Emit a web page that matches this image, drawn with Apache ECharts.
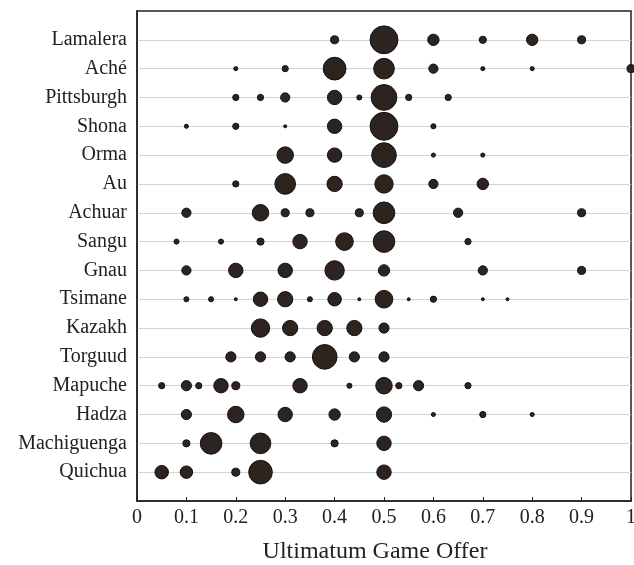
<!DOCTYPE html>
<html>
<head>
<meta charset="utf-8">
<script src="https://cdn.jsdelivr.net/npm/echarts@6/dist/echarts.min.js"></script>
<style>
html,body{margin:0;padding:0;background:#fff;}
#chart{width:634px;height:565px;}
</style>
</head>
<body>
<div id="chart"></div>
<script>
// Societies, listed top to bottom
const societies = ['Lamalera','Aché','Pittsburgh','Shona','Orma','Au','Achuar','Sangu','Gnau','Tsimane','Kazakh','Torguud','Mapuche','Hadza','Machiguenga','Quichua'];

// Each entry: [offer, approximate share of offers (%)]
const lamalera    = [[0.4,5],[0.5,60],[0.6,10],[0.7,4],[0.8,10],[0.9,5]];
const ache        = [[0.2,1.3],[0.3,3],[0.4,40],[0.5,33],[0.6,6.6],[0.7,1.3],[0.8,1.3],[1.0,5]];
const pittsburgh  = [[0.2,3],[0.25,3],[0.3,6.6],[0.4,16],[0.45,2],[0.5,51],[0.55,3],[0.63,3]];
const shona       = [[0.1,1.3],[0.2,3],[0.3,0.7],[0.4,16],[0.5,60],[0.6,2]];
const orma        = [[0.3,21],[0.4,16],[0.5,47],[0.6,1.3],[0.7,1.3]];
const au          = [[0.2,3],[0.3,33],[0.4,18],[0.5,26],[0.6,6.6],[0.7,10]];
const achuar      = [[0.1,6.6],[0.25,21],[0.3,5],[0.35,5],[0.45,5],[0.5,36],[0.65,6.6],[0.9,5]];
const sangu       = [[0.08,2],[0.17,2],[0.25,4],[0.33,16],[0.42,24],[0.5,36],[0.67,3]];
const gnau        = [[0.1,6.6],[0.2,16],[0.3,16],[0.4,29],[0.5,10],[0.7,6.6],[0.9,5]];
const tsimane     = [[0.1,2],[0.15,2],[0.2,0.7],[0.25,16],[0.3,18],[0.35,2],[0.4,14],[0.45,0.7],[0.5,24],[0.55,0.7],[0.6,3],[0.7,0.7],[0.75,0.7]];
const kazakh      = [[0.25,26],[0.31,18],[0.38,18],[0.44,18],[0.5,8]];
const torguud     = [[0.19,8],[0.25,8],[0.31,8],[0.38,47],[0.44,8],[0.5,8]];
const mapuche     = [[0.05,3],[0.1,8],[0.125,3],[0.17,16],[0.2,5],[0.33,16],[0.43,2],[0.5,21],[0.53,3],[0.57,8],[0.67,3]];
const hadza       = [[0.1,8],[0.2,21],[0.3,16],[0.4,10],[0.5,18],[0.6,1.3],[0.7,3],[0.8,1.3]];
const machiguenga = [[0.1,4],[0.15,36],[0.25,33],[0.4,4],[0.5,16]];
const quichua     = [[0.05,14],[0.1,12],[0.2,5],[0.25,43],[0.5,16]];

const rows = [lamalera, ache, pittsburgh, shona, orma, au, achuar, sangu, gnau, tsimane, kazakh, torguud, mapuche, hadza, machiguenga, quichua];

const xTicks = [0,0.1,0.2,0.3,0.4,0.5,0.6,0.7,0.8,0.9,1];

const points = [];
rows.forEach((row, i) => row.forEach(p => points.push([p[0], i, p[1]])));

const serif = 'Liberation Serif';
const splitColors = [];
for (let k = 0; k <= societies.length + 1; k++) {
  splitColors.push(k === 0 || k === societies.length + 1 ? 'rgba(0,0,0,0)' : '#d4d4d4');
}

const chart = echarts.init(document.getElementById('chart'));
chart.setOption({
  backgroundColor: '#fff',
  animation: false,
  grid: {left: 137, right: 3, top: 11, bottom: 64, show: true, borderColor: '#222', borderWidth: 1.5,
         containLabel: false, outerBoundsMode: 'none'},
  xAxis: {
    type: 'value', min: 0, max: 1, interval: 0.1,
    name: 'Ultimatum Game Offer', nameLocation: 'middle', nameGap: 39,
    nameTextStyle: {fontFamily: serif, fontSize: 24, color: '#222', padding: [0, 18, 0, 0]},
    axisLine: {show: true, onZero: false, lineStyle: {color: '#222', width: 1.5}},
    axisTick: {show: true, inside: true, length: 4, lineStyle: {color: '#222'}},
    axisLabel: {fontFamily: serif, fontSize: 20, color: '#222', margin: 7,
      formatter: v => { const t = xTicks.find(x => Math.abs(x - v) < 1e-6); return t === undefined ? '' : String(t); }},
    splitLine: {show: false}
  },
  yAxis: {
    type: 'value', min: -1, max: societies.length, interval: 1, inverse: true,
    axisLine: {show: true, onZero: false, lineStyle: {color: '#222', width: 1.5}},
    axisTick: {show: false},
    axisLabel: {fontFamily: serif, fontSize: 20, color: '#222', margin: 10,
      formatter: v => (v >= 0 && v < societies.length) ? societies[v] : ''},
    splitLine: {show: true, lineStyle: {color: splitColors, width: 1}}
  },
  series: [{
    type: 'scatter',
    data: points,
    symbolSize: d => 3.6 * Math.sqrt(d[2]),
    itemStyle: {color: '#2d2420', borderColor: '#111', borderWidth: 1, opacity: 1},
    clip: true
  }]
});
</script>
</body>
</html>
